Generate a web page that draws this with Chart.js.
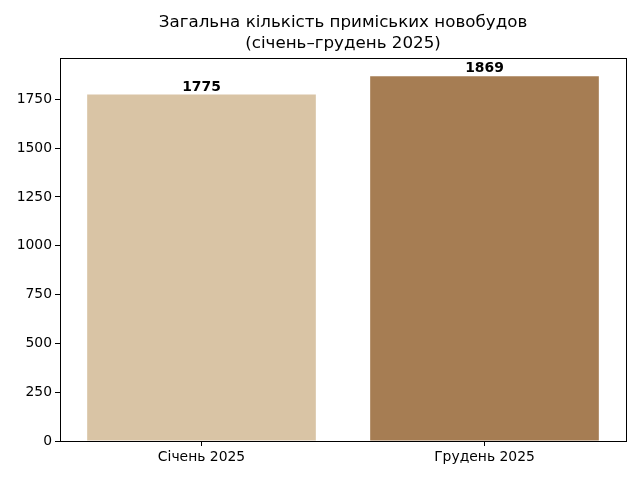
<!DOCTYPE html>
<html>
<head>
<meta charset="utf-8">
<script src="https://cdn.jsdelivr.net/npm/chart.js@4"></script>
<style>
  html, body { margin: 0; padding: 0; background: #fff; }
  #wrap { width: 640px; height: 480px; }
</style>
</head>
<body>
<div id="wrap"><canvas id="newBuildChart" width="640" height="480"></canvas></div>
<script>
// data
var categories = ['Січень 2025', 'Грудень 2025'];
var totals = [1775, 1869];
var barColors = ['#D9C4A5', '#A67D53'];
var yTicks = [0, 250, 500, 750, 1000, 1250, 1500, 1750];
var titleLines = ['Загальна кількість приміських новобудов', '(січень–грудень 2025)'];

var FONT = "'DejaVu Sans', sans-serif";

// value labels above the bars
var valueLabels = {
  id: 'valueLabels',
  afterDatasetsDraw(chart) {
    var c = chart.ctx;
    var meta = chart.getDatasetMeta(0);
    c.save();
    c.font = 'bold 13.9px ' + FONT;
    c.fillStyle = '#000';
    c.textAlign = 'center';
    c.textBaseline = 'bottom';
    meta.data.forEach(function (bar, i) {
      c.fillText(String(totals[i]), bar.x, bar.y - 0.5);
    });
    c.restore();
  }
};

// box around the plot area + title centred over the axes (matplotlib style)
var frame = {
  id: 'frame',
  afterDraw(chart) {
    var a = chart.chartArea, c = chart.ctx;
    c.save();
    c.strokeStyle = '#000';
    c.lineWidth = 1;
    c.strokeRect(Math.round(a.left) + 0.5, Math.round(a.top) + 0.5,
      Math.round(a.right - a.left), Math.round(a.bottom - a.top));
    c.font = '16.7px ' + FONT;
    c.fillStyle = '#000';
    c.textAlign = 'center';
    c.textBaseline = 'middle';
    var cx = (a.left + a.right) / 2;
    c.fillText(titleLines[0], cx, 23);
    c.fillText(titleLines[1], cx, 44);
    c.restore();
  }
};

var ctx = document.getElementById('newBuildChart').getContext('2d');
new Chart(ctx, {
  type: 'bar',
  data: {
    labels: categories,
    datasets: [{
      data: totals,
      backgroundColor: barColors,
      borderWidth: 0,
      categoryPercentage: 1.0,
      barPercentage: 0.808
    }]
  },
  options: {
    responsive: false,
    animation: false,
    devicePixelRatio: 1,
    layout: { padding: { left: 0, right: 14, top: 58, bottom: 0 } },
    plugins: {
      legend: { display: false },
      tooltip: { enabled: false },
      title: { display: false }
    },
    scales: {
      x: {
        offset: true,
        grid: { display: true, offset: false, drawOnChartArea: false, drawTicks: true, tickLength: 5, color: '#000' },
        border: { display: false },
        ticks: { color: '#000', font: { family: FONT, size: 13.9 }, padding: 3 },
        afterFit(scale) { scale.height = 39; }
      },
      y: {
        min: 0,
        max: 1962,
        grid: { display: true, drawOnChartArea: false, drawTicks: true, tickLength: 5, color: '#000' },
        border: { display: false },
        afterBuildTicks(scale) { scale.ticks = yTicks.map(function (v) { return { value: v }; }); },
        ticks: {
          color: '#000',
          font: { family: FONT, size: 13.9 },
          padding: 3,
          callback: function (v) { return String(v); }
        },
        afterFit(scale) { scale.width = 60; }
      }
    }
  },
  plugins: [valueLabels, frame]
});
</script>
</body>
</html>
